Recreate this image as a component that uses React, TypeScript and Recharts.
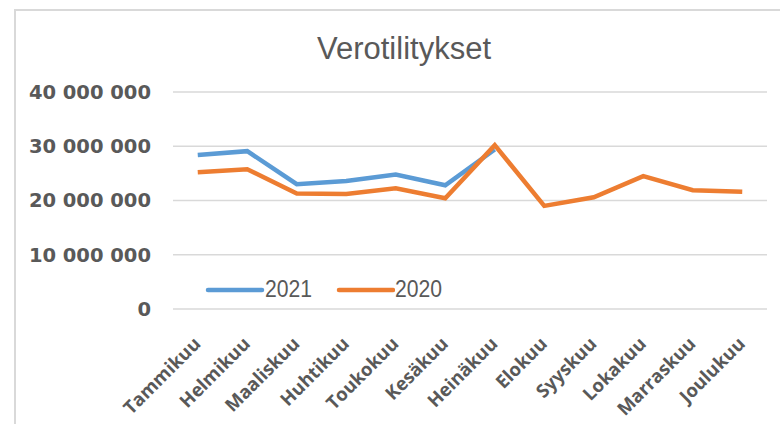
import React from 'react';
import { LineChart, Line, XAxis, YAxis, CartesianGrid, Legend } from 'recharts';

const months = ['Tammikuu', 'Helmikuu', 'Maaliskuu', 'Huhtikuu', 'Toukokuu', 'Kesäkuu', 'Heinäkuu', 'Elokuu', 'Syyskuu', 'Lokakuu', 'Marraskuu', 'Joulukuu'];
const values2021: (number | null)[] = [28400000, 29100000, 23000000, 23600000, 24800000, 22800000, 29400000, null, null, null, null, null];
const values2020: number[] = [25200000, 25750000, 21300000, 21200000, 22250000, 20400000, 30200000, 19000000, 20600000, 24500000, 21900000, 21600000];
const yTicks = [0, 10000000, 20000000, 30000000, 40000000];
const seriesNames = ['2021', '2020'];
const seriesColors = ['#5B9BD5', '#ED7D31'];
const title = 'Verotilitykset';

const data = months.map((m, i) => ({ month: m, s2021: values2021[i], s2020: values2020[i] }));

const fmt = (v: number) => String(v).replace(/\B(?=(\d{3})+(?!\d))/g, ' ');

const XTick = (props: any) => {
  const { x, y, payload } = props;
  const ax = x + 4;
  const ay = y + 28;
  return (
    <text
      x={ax}
      y={ay}
      textAnchor="end"
      transform={`rotate(-45, ${ax}, ${ay})`}
      fill="#595959"
      fontFamily="'Open Sans', sans-serif"
      fontWeight={700}
      fontSize={18.5}
    >
      {payload.value}
    </text>
  );
};

const YTick = (props: any) => {
  const { x, y, payload } = props;
  return (
    <text
      x={x}
      y={y}
      dy="0.355em"
      textAnchor="end"
      fill="#595959"
      fontFamily="'DejaVu Sans', sans-serif"
      fontWeight={700}
      fontSize={19.5}
    >
      {fmt(payload.value)}
    </text>
  );
};

const LegendContent = () => (
  <div style={{ display: 'flex', alignItems: 'center', fontFamily: "'Liberation Sans', Arial, sans-serif", fontSize: 23, color: '#595959', whiteSpace: 'nowrap' }}>
    {seriesNames.map((n, i) => (
      <div key={n} style={{ display: 'flex', alignItems: 'center', width: i === 0 ? 131 : 110 }}>
        <svg width={60} height={10}>
          <line x1={3} y1={5} x2={57} y2={5} stroke={seriesColors[i]} strokeWidth={4.5} strokeLinecap="round" />
        </svg>
        <span style={{ display: 'inline-block', transform: 'scaleX(0.92)', transformOrigin: 'left center' }}>{n}</span>
      </div>
    ))}
  </div>
);

export default function App() {
  return (
    <div style={{ position: 'absolute', left: 0, top: 0, width: 780, height: 424, background: '#fff', overflow: 'hidden' }}>
      <div style={{ position: 'absolute', left: 14, top: 9, width: 900, height: 600, borderLeft: '2px solid #d9d9d9', borderTop: '2px solid #d9d9d9' }} />
      <div style={{ position: 'absolute', left: 0, top: 31, width: 808, textAlign: 'center', fontFamily: "'Liberation Sans', Arial, sans-serif", fontSize: 31, color: '#595959', lineHeight: '36px' }}>
        {title}
      </div>
      <div style={{ position: 'absolute', left: 0, top: 0 }}>
        <LineChart width={780} height={424} data={data} margin={{ top: 92, right: 13, bottom: 0, left: 0 }}>
          <CartesianGrid horizontal vertical={false} stroke="#d9d9d9" strokeWidth={1.5} />
          <XAxis dataKey="month" axisLine={false} tickLine={false} interval={0} height={115} padding={{ left: 24.75, right: 24.75 }} tick={<XTick />} />
          <YAxis domain={[0, 40000000]} ticks={yTicks} axisLine={false} tickLine={false} width={173} tickMargin={16} tick={<YTick />} />
          <Legend
            layout="horizontal"
            verticalAlign="middle"
            align="center"
            content={<LegendContent />}
            wrapperStyle={{ position: 'absolute', left: 205, top: 276, width: 'auto' }}
          />
          <Line type="linear" dataKey="s2021" name={seriesNames[0]} stroke={seriesColors[0]} strokeWidth={4.5} dot={false} isAnimationActive={false} connectNulls={false} />
          <Line type="linear" dataKey="s2020" name={seriesNames[1]} stroke={seriesColors[1]} strokeWidth={4.5} dot={false} isAnimationActive={false} />
        </LineChart>
      </div>
    </div>
  );
}
